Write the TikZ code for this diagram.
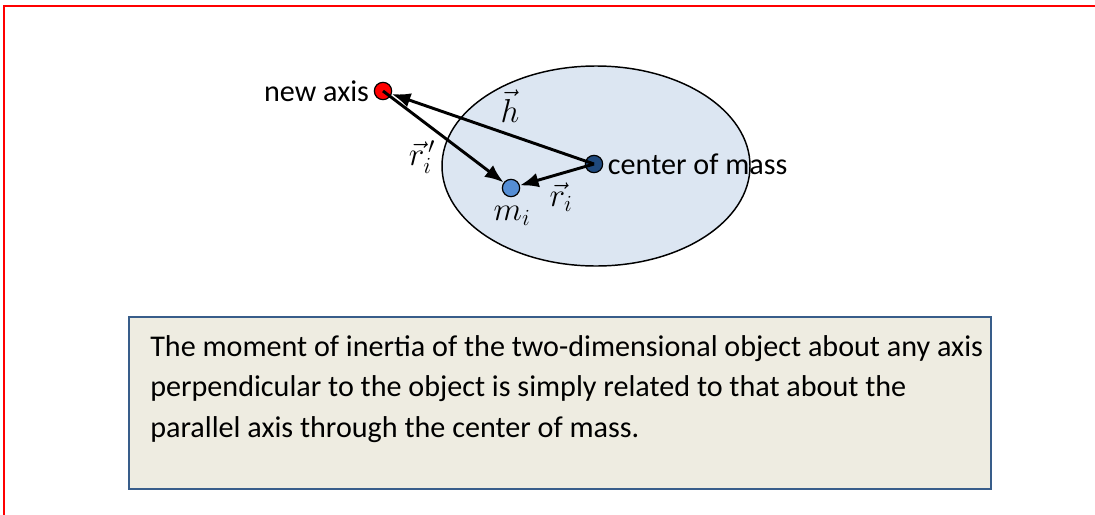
\documentclass[tikz,border=0pt]{standalone}
\usepackage{fontspec}
\setmainfont{Carlito}
\usepackage{amsmath}
\usepackage{tikz}
\usetikzlibrary{arrows.meta, positioning, calc}
\definecolor{bodyfill}{RGB}{220, 230, 242}
\definecolor{comblue}{RGB}{31, 73, 125}
\definecolor{massblue}{RGB}{85, 142, 213}
\definecolor{boxfill}{RGB}{238, 236, 225}
\definecolor{boxline}{RGB}{56, 93, 138}

\begin{document}
\begin{tikzpicture}[x=0.75pt, y=-0.75pt, >={Latex[length=14pt, width=11pt]},
    font=\fontsize{22.6}{30.5}\selectfont,
    dot/.style={circle, draw=black, line width=0.9pt, minimum size=13pt, inner sep=0pt},
    vec/.style={->, line width=2.2pt},
    sym/.style={font=\fontsize{23}{23}\selectfont, inner sep=1pt},
    infobox/.style={draw=boxline, fill=boxfill, line width=1.3pt, minimum width=646.5pt, minimum height=129pt, anchor=north west, inner sep=0pt}]
    \clip (0,0) rectangle (1095,514);
    \draw[red, line width=1.6pt] (4,6) rectangle (1200,600);
    % rigid body
    \draw[fill=bodyfill, line width=1.1pt] (596,166) ellipse [x radius=154, y radius=100];
    \node[dot, fill=red] (axis) at (383,91) {};
    \node[dot, fill=comblue] (com) at (594,164) {};
    \node[dot, fill=massblue] (mass) at (511,188) {};
    \node[left=0pt of axis] (axislabel) {new axis};
    \node[right=0pt of com] (comlabel) {center of mass};
    % vectors
    \draw[vec] (com.center) -- (axis);
    \draw[vec] (axis.center) -- (mass);
    \draw[vec] (com.center) -- (mass);
    \node[sym] at (510,106) (hlabel) {$\vec{h}$};
    \node[sym] at (422,157) (rplabel) {$\vec{r}_i^{\,\prime}$};
    \node[sym] at (561,197) (rlabel) {$\vec{r}_i$};
    \node[sym] at (512,216) (mlabel) {$m_i$};
    % caption box
    \node[infobox] (box) at (128,316) {};
    \node[anchor=north west, align=left, inner sep=0pt] (caption) at (150,335)
        {The moment of inertia of the two-dimensional object about any axis\\
         perpendicular to the object is simply related to that about the\\
         parallel axis through the center of mass.};
\end{tikzpicture}
\end{document}
